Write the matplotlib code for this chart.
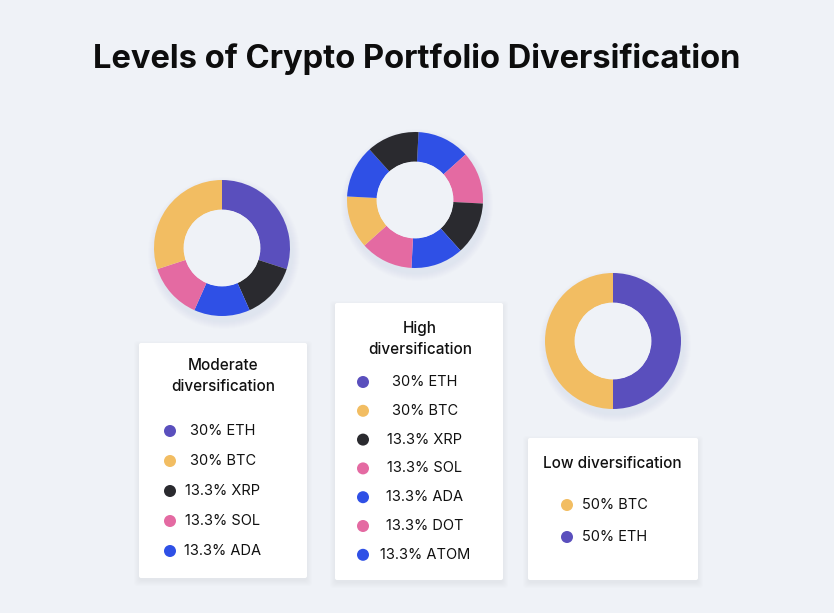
import matplotlib
matplotlib.use('Agg')
import matplotlib.pyplot as plt
from matplotlib.patches import FancyBboxPatch, Circle, Wedge

plt.rcParams['font.family'] = ['Inter', 'DejaVu Sans']

W, H = 834, 613
BG = '#eff2f7'

# colours per coin
coin_colors = {
    'ETH': '#5a4fbd',
    'BTC': '#f2bd62',
    'XRP': '#2a2a2f',
    'SOL': '#e46aa2',
    'ADA': '#2f50e6',
    'DOT': '#e46aa2',
    'ATOM': '#2f50e6',
}

title = 'Levels of Crypto Portfolio Diversification'

# moderate
mod_title = 'Moderate\ndiversification'
mod_coins = ['ETH', 'BTC', 'XRP', 'SOL', 'ADA']
mod_shares = ['30%', '30%', '13.3%', '13.3%', '13.3%']
mod_ring_coins = ['ETH', 'XRP', 'ADA', 'SOL', 'BTC']
mod_ring_values = [30, 13.3, 13.3, 13.3, 30]

# high
high_title = 'High\ndiversification'
high_coins = ['ETH', 'BTC', 'XRP', 'SOL', 'ADA', 'DOT', 'ATOM']
high_shares = ['30%', '30%', '13.3%', '13.3%', '13.3%', '13.3%', '13.3%']
high_ring_coins = ['ADA', 'SOL', 'XRP', 'ATOM', 'DOT', 'BTC', 'ADA', 'XRP']
high_ring_values = [12.5, 12.5, 12.5, 12.5, 12.5, 12.5, 12.5, 12.5]

# low
low_title = 'Low diversification'
low_coins = ['BTC', 'ETH']
low_shares = ['50%', '50%']
low_ring_coins = ['ETH', 'BTC']
low_ring_values = [50, 50]

fig = plt.figure(figsize=(W / 100, H / 100), dpi=100, facecolor=BG)
bg = fig.add_axes([0, 0, 1, 1])
bg.set_xlim(0, W)
bg.set_ylim(H, 0)
bg.axis('off')
bg.set_facecolor(BG)

bg.text(W / 2, 59, title, ha='center', va='center', fontsize=23.5,
        fontweight='bold', color='#0d0d0d')


def donut(cx, cy, r, values, coins, start):
    # soft shadow, only around the ring
    for k in range(8):
        bg.add_patch(Wedge((cx + 2, cy + 5), r + 8 - k, 0, 360, width=30,
                           color='#8a93a8', alpha=0.01, lw=0, zorder=1))
    ax = fig.add_axes([(cx - r) / W, 1 - (cy + r) / H, 2 * r / W, 2 * r / H])
    ax.pie(values, colors=[coin_colors[c] for c in coins], startangle=start,
           counterclock=False, radius=1,
           wedgeprops=dict(width=0.44, edgecolor='none', linewidth=0))
    ax.add_patch(Circle((0, 0), 0.565, color=BG, lw=0, zorder=5))
    ax.set_xlim(-1, 1)
    ax.set_ylim(-1, 1)
    ax.axis('off')


def card(x0, y0, x1, y1):
    for k in range(6):
        bg.add_patch(FancyBboxPatch((x0 - k, y0 - k + 3), x1 - x0 + 2 * k,
                                    y1 - y0 + 2 * k,
                                    boxstyle='round,pad=0,rounding_size=3',
                                    fc='#9aa3b8', ec='none', alpha=0.018,
                                    zorder=2))
    bg.add_patch(FancyBboxPatch((x0, y0), x1 - x0, y1 - y0,
                                boxstyle='round,pad=0,rounding_size=2',
                                fc='white', ec='none', zorder=3))


def legend_rows(coins, shares, dot_x, text_x, y0, dy, ha='center'):
    for i, (c, s) in enumerate(zip(coins, shares)):
        y = y0 + i * dy
        bg.add_patch(Circle((dot_x, y), 6, color=coin_colors[c], lw=0, zorder=4))
        bg.text(text_x, y, f'{s} {c}', ha=ha, va='center', fontsize=10.5,
                color='#111111', zorder=5)


donut(222, 248, 68, mod_ring_values, mod_ring_coins, 90)
donut(415, 200, 68, high_ring_values, high_ring_coins, 87)
donut(613, 341, 68, low_ring_values, low_ring_coins, 90)

card(139, 343, 307, 578)
bg.text(223, 376, mod_title, ha='center', va='center', fontsize=11,
        fontweight='medium', linespacing=1.5, color='#111111', zorder=5)
legend_rows(mod_coins, mod_shares, 170, 223, 431, 30)

card(335, 303, 503, 580)
bg.text(420, 339, high_title, ha='center', va='center', fontsize=11,
        fontweight='medium', linespacing=1.5, color='#111111', zorder=5)
legend_rows(high_coins, high_shares, 363, 425, 382, 28.8)

card(528, 438, 698, 580)
bg.text(612, 463, low_title, ha='center', va='center', fontsize=11,
        fontweight='medium', color='#111111', zorder=5)
legend_rows(low_coins, low_shares, 567, 582, 505, 32, ha='left')

fig.savefig('out.png', dpi=100, facecolor=BG)
